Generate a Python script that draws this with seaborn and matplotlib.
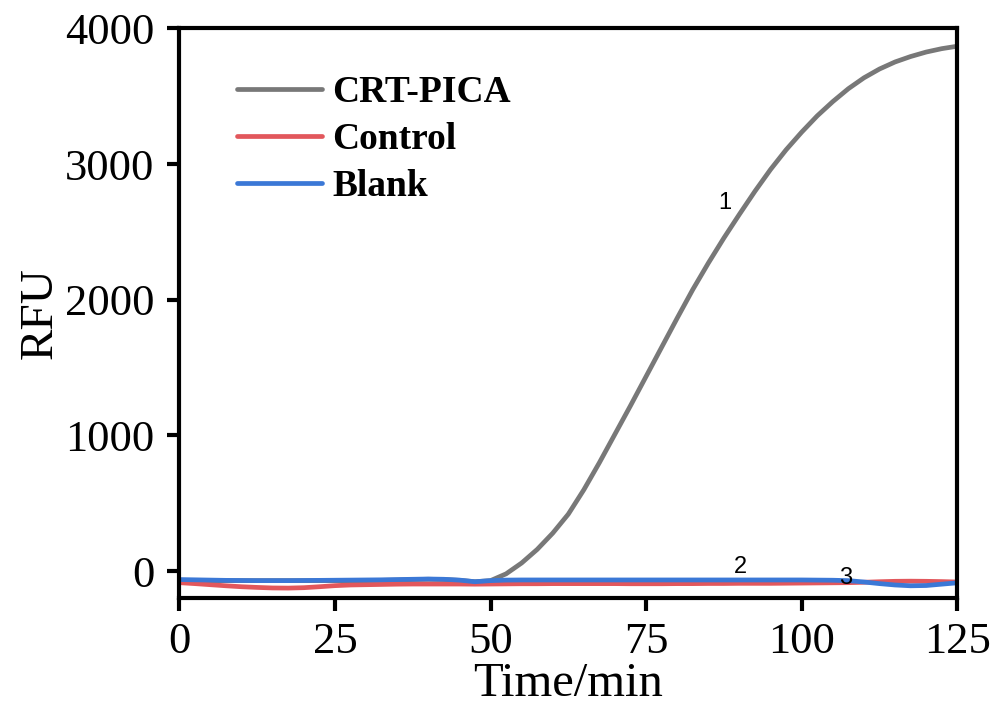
import numpy as np
import matplotlib
matplotlib.use("Agg")
import matplotlib.pyplot as plt
import seaborn as sns
import pandas as pd

# ---- data ----
time_min = [0, 2.5, 5, 7.5, 10, 12.5, 15, 17.5, 20, 22.5, 25, 27.5, 30, 32.5, 35,
            37.5, 40, 42.5, 45, 47.5, 50, 52.5, 55, 57.5, 60, 62.5, 65, 67.5, 70,
            72.5, 75, 77.5, 80, 82.5, 85, 87.5, 90, 92.5, 95, 97.5, 100, 102.5,
            105, 107.5, 110, 112.5, 115, 117.5, 120, 122.5, 125]

crt_pica = [-70, -70, -70, -70, -70, -70, -70, -70, -70, -70, -70, -70, -70, -68,
            -66, -62, -60, -62, -68, -78, -70, -20, 60, 160, 280, 420, 600, 800,
            1010, 1220, 1435, 1650, 1865, 2075, 2270, 2455, 2630, 2800, 2960, 3105,
            3235, 3355, 3460, 3555, 3635, 3700, 3752, 3792, 3825, 3850, 3868]

control = [-85, -92, -100, -108, -115, -120, -124, -125, -122, -115, -107, -102,
           -100, -98, -96, -95, -95, -95, -95, -96, -95, -94, -93, -93, -92, -92,
           -92, -92, -92, -93, -93, -93, -92, -92, -91, -91, -90, -90, -90, -89,
           -88, -87, -86, -85, -82, -78, -75, -74, -75, -77, -80]

blank = [-62, -64, -66, -68, -69, -70, -70, -70, -69, -68, -67, -66, -65, -64,
         -62, -60, -58, -60, -66, -78, -70, -66, -65, -65, -65, -65, -65, -65,
         -65, -65, -65, -65, -65, -65, -65, -65, -65, -65, -65, -65, -65, -66,
         -67, -70, -80, -92, -102, -108, -106, -96, -86]

series_names = ["CRT-PICA", "Control", "Blank"]
series_colors = ["#787878", "#E2575C", "#3B78D6"]

df = pd.DataFrame({
    "Time": time_min * 3,
    "RFU": crt_pica + control + blank,
    "Series": [series_names[0]] * len(time_min)
              + [series_names[1]] * len(time_min)
              + [series_names[2]] * len(time_min),
})

sns.set_style("ticks")
plt.rcParams["font.family"] = ["Liberation Serif", "DejaVu Serif"]
plt.rcParams["text.color"] = "black"
plt.rcParams["axes.labelcolor"] = "black"
plt.rcParams["xtick.color"] = "black"
plt.rcParams["ytick.color"] = "black"

fig = plt.figure(figsize=(9.98, 7.13), dpi=100)
ax = fig.add_axes([0.1797, 0.1609, 0.7795, 0.7994])

sns.lineplot(data=df, x="Time", y="RFU", hue="Series", hue_order=series_names,
             palette=dict(zip(series_names, series_colors)), linewidth=3.4,
             ax=ax, legend=True)

ax.set_xlim(0, 125)
ax.set_ylim(-200, 4000)
ax.set_xticks([0, 25, 50, 75, 100, 125])
ax.set_yticks([0, 1000, 2000, 3000, 4000])
ax.set_xlabel("Time/min", fontsize=35, labelpad=0)
ax.set_ylabel("RFU", fontsize=34, labelpad=2)
ax.tick_params(axis="both", labelsize=32, width=3, length=9, direction="out",
               labelcolor="black", color="black")
ax.tick_params(axis="x", pad=8)
ax.tick_params(axis="y", pad=9)
for sp in ax.spines.values():
    sp.set_linewidth(3)
    sp.set_color("black")

# curve numbers
ax.text(87.6, 2715, "1", fontsize=17, family="Liberation Sans", ha="center", va="center")
ax.text(90.2, 27, "2", fontsize=17, family="Liberation Sans", ha="center", va="center")
ax.text(107.1, -47, "3", fontsize=17, family="Liberation Sans", ha="center", va="center")

leg = ax.legend(loc="upper left", bbox_to_anchor=(0.074, 0.918), frameon=False,
                borderaxespad=0, borderpad=0, handlelength=2.27,
                handletextpad=0.27, labelspacing=0.32,
                prop={"family": "Liberation Serif", "weight": "bold", "size": 27})
for line in leg.get_lines():
    line.set_linewidth(3.4)

fig.savefig("out.png", dpi=100)
